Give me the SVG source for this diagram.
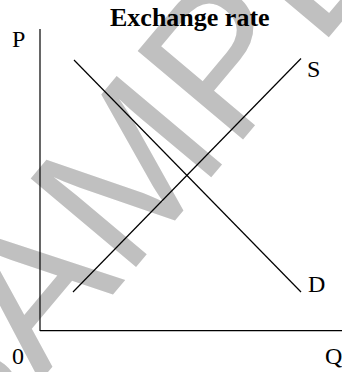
<svg xmlns="http://www.w3.org/2000/svg" width="342" height="372" viewBox="0 0 342 372">
<style>
.wm{font-family:"Liberation Sans",Arial,sans-serif;font-size:200px;fill:#c0c0c0}
.lbl{font-family:"Liberation Serif","Times New Roman",serif;font-size:24px;fill:#000}
.ttl{font-family:"Liberation Serif","Times New Roman",serif;font-size:26px;font-weight:bold;fill:#000}
.ln{stroke:#000;stroke-width:1.2;fill:none}
</style>
<rect width="342" height="372" fill="#fff"/>
<g id="watermark">
<text class="wm" transform="translate(-46 484) rotate(-50)">SAMPLE</text>
</g>
<g id="title"><text class="ttl" x="110" y="26">Exchange rate</text></g>
<g id="axes">
<line class="ln" x1="40" y1="29" x2="40" y2="331"/>
<line class="ln" x1="40" y1="330.6" x2="342" y2="330.6"/>
</g>
<g id="connectors">
<line id="demand" class="ln" x1="74" y1="60" x2="301" y2="292"/>
<line id="supply" class="ln" x1="73" y1="292" x2="301" y2="58.5"/>
</g>
<g id="labels">
<text class="lbl" x="12" y="47">P</text>
<text class="lbl" x="307" y="77">S</text>
<text class="lbl" x="308" y="292">D</text>
<text class="lbl" x="12" y="364">0</text>
<text class="lbl" x="325" y="364">Q</text>
</g>
</svg>
